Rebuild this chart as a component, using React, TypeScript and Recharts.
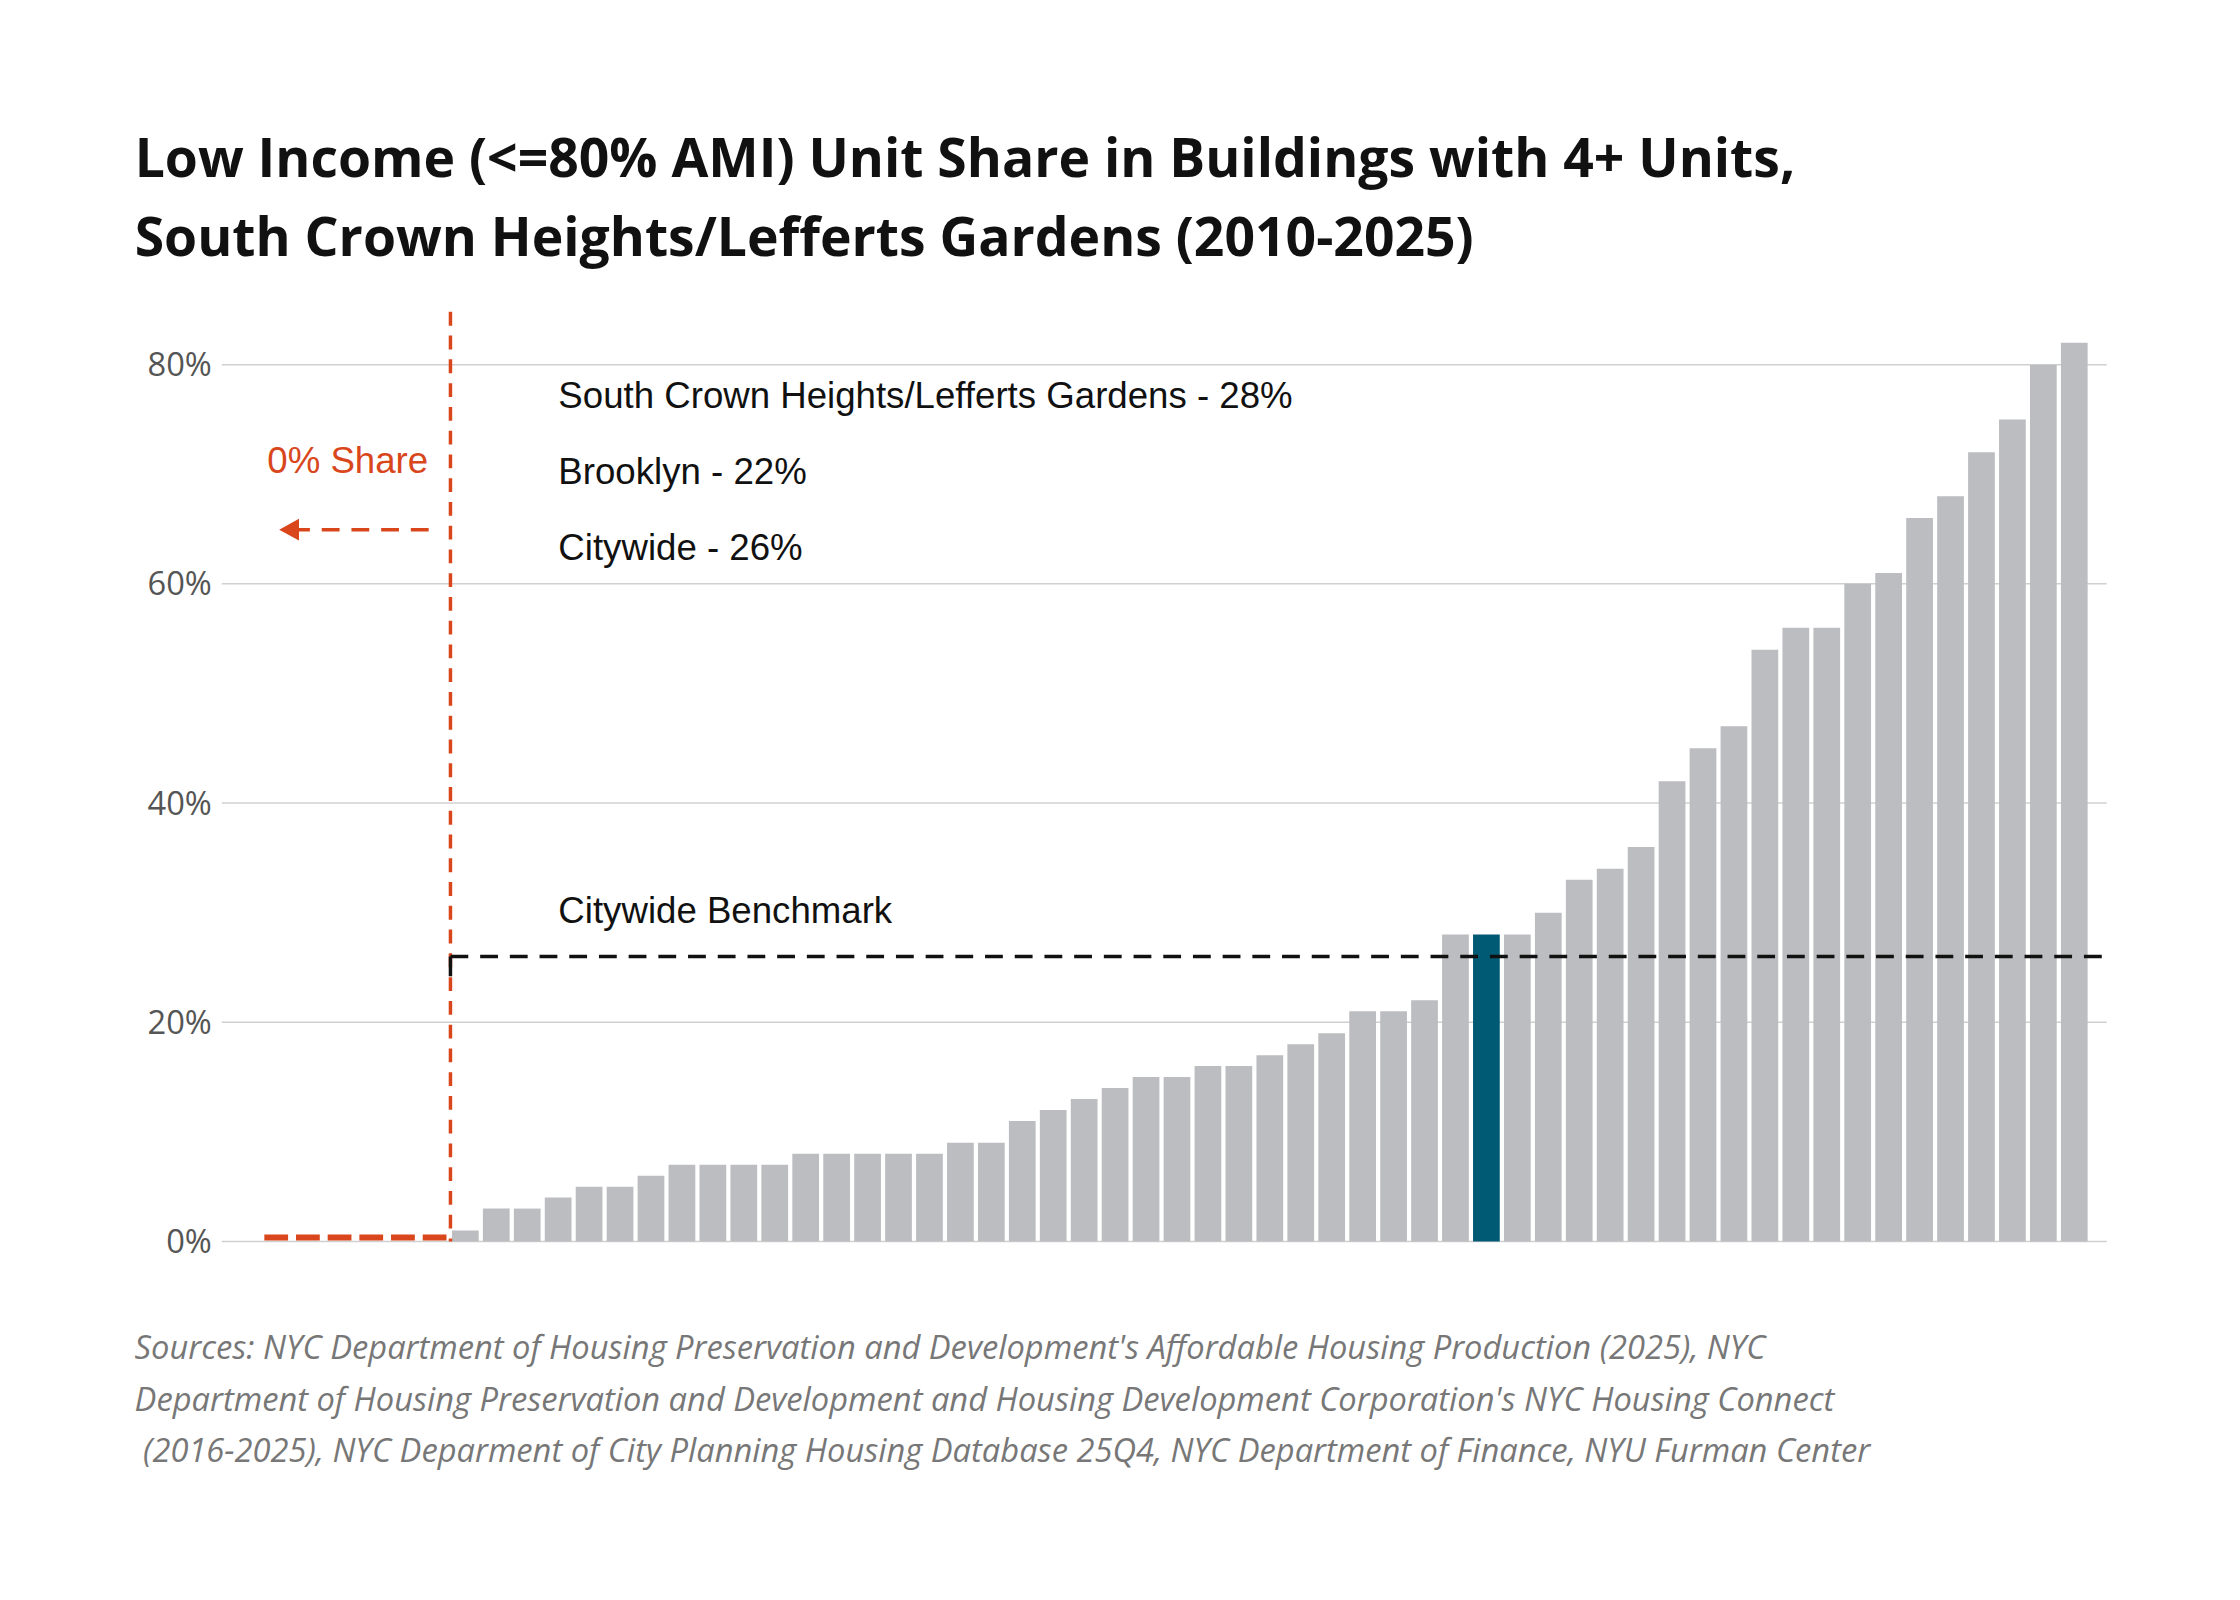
import { BarChart, Bar, XAxis, YAxis, CartesianGrid, Cell } from "recharts";

const shares = [
  0, 0, 0, 0, 0, 0,
  1, 3, 3, 4, 5, 5, 6, 7, 7, 7, 7, 8, 8, 8, 8, 8, 9, 9, 11, 12, 13, 14, 15, 15,
  16, 16, 17, 18, 19, 21, 21, 22, 28, 28, 28, 30, 33, 34, 36, 42, 45, 47, 54,
  56, 56, 60, 61, 66, 68, 72, 75, 80, 82,
];
const highlightIndex = 39;
const yTicks = [0, 20, 40, 60, 80];
const benchmark = 26;
const notes = [
  "South Crown Heights/Lefferts Gardens - 28%",
  "Brooklyn - 22%",
  "Citywide - 26%",
];
const sources = [
  "Sources: NYC Department of Housing Preservation and Development's Affordable Housing Production (2025), NYC",
  "Department of Housing Preservation and Development and Housing Development Corporation's NYC Housing Connect",
  " (2016-2025), NYC Deparment of City Planning Housing Database 25Q4, NYC Department of Finance, NYU Furman Center",
];

const data = shares.map((v, i) => ({ id: "b" + i, value: v }));

const RED = "#d9461b";
const top = 313;
const bottom = 1254;
const pxPer = (bottom - top) / 85;
const yOf = (v: number) => bottom - v * pxPer;

export default function App() {
  return (
    <div style={{ position: "relative", width: 2240, height: 1600, background: "#fff", margin: -8, overflow: "hidden" }}>
      <div style={{ position: "absolute", left: 0, top: 0, width: 2240, height: 1600, transform: "scale(0.99)", transformOrigin: "0 0" }}>
        <div style={{ position: "absolute", left: 136, top: 118, fontFamily: "Open Sans", fontWeight: 700, fontSize: 54, lineHeight: "80px", color: "#111", whiteSpace: "nowrap" }}>
          Low Income (&lt;=80% AMI) Unit Share in Buildings with 4+ Units,
          <br />
          South Crown Heights/Lefferts Gardens (2010-2025)
        </div>
        <div style={{ position: "absolute", left: 0, top: 0 }}>
          <BarChart width={2240} height={1600} data={data} margin={{ top, right: 112, bottom: 1600 - bottom, left: 0 }} barCategoryGap={2}>
            <CartesianGrid vertical={false} stroke="#d0d0d0" strokeWidth={1.5} horizontalValues={yTicks} />
            <XAxis dataKey="id" hide padding={{ left: 43, right: 17 }} />
            <YAxis width={224} domain={[0, 85]} ticks={yTicks} axisLine={false} tickLine={false}
              tickFormatter={(v) => v + "%"} tick={{ fill: "#555", fontSize: 33, fontFamily: "Open Sans" }} tickMargin={4} />
            <Bar dataKey="value" isAnimationActive={false}>
              {data.map((d, i) => (
                <Cell key={d.id} fill={i === highlightIndex ? "#005a73" : "#bcbdc1"} />
              ))}
            </Bar>
          </BarChart>
        </div>
        <svg width={2240} height={1600} style={{ position: "absolute", left: 0, top: 0, pointerEvents: "none" }}>
          <line x1={455} y1={315} x2={455} y2={bottom} stroke={RED} strokeWidth={3.5} strokeDasharray="14 10" />
          <line x1={267} y1={bottom - 4} x2={455} y2={bottom - 4} stroke={RED} strokeWidth={6} strokeDasharray="24 8" />
          <line x1={455} y1={yOf(benchmark)} x2={2128} y2={yOf(benchmark)} stroke="#111" strokeWidth={3.5} strokeDasharray="18 12" />
          <line x1={455} y1={yOf(benchmark)} x2={455} y2={yOf(benchmark) + 20} stroke="#111" strokeWidth={3.5} />
          <line x1={295} y1={535} x2={440} y2={535} stroke={RED} strokeWidth={3.5} strokeDasharray="18 12" />
          <polygon points="282,535 302,524 302,546" fill={RED} />
          <text x={270} y={478} fill={RED} fontSize={37} fontFamily="Liberation Sans">0% Share</text>
          {notes.map((n, i) => (
            <text key={n} x={564} y={412 + i * 77} fill="#111" fontSize={37} fontFamily="Liberation Sans">{n}</text>
          ))}
          <text x={564} y={932} fill="#111" fontSize={37} fontFamily="Liberation Sans">Citywide Benchmark</text>
          {sources.map((s, i) => (
            <text key={i} x={136} y={1373 + i * 52} fill="#777" fontSize={33} fontStyle="italic" fontFamily="Open Sans" xmlSpace="preserve">{s}</text>
          ))}
        </svg>
      </div>
    </div>
  );
}
